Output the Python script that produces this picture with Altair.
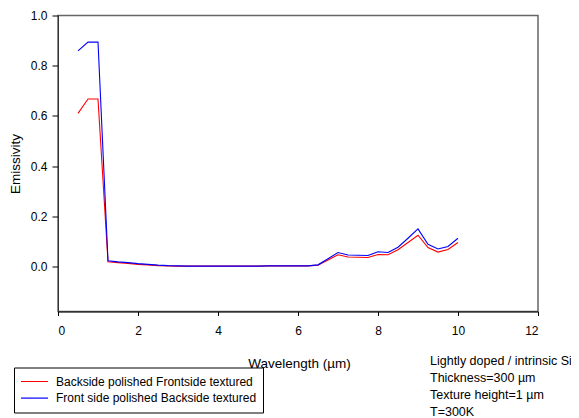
import altair as alt
import pandas as pd

wavelength = [0.5, 0.75, 1.0, 1.25, 1.5, 1.75, 2.0, 2.25, 2.5, 2.75, 3.0, 3.25, 3.5, 3.75,
              4.0, 4.25, 4.5, 4.75, 5.0, 5.25, 5.5, 5.75, 6.0, 6.25, 6.5, 6.75, 7.0, 7.25,
              7.5, 7.75, 8.0, 8.25, 8.5, 8.75, 9.0, 9.25, 9.5, 9.75, 10.0]
red_vals = [0.610, 0.667, 0.667, 0.018, 0.015, 0.012, 0.008, 0.006, 0.003, 0.002, 0.001, 0.001,
            0.001, 0.001, 0.001, 0.001, 0.001, 0.001, 0.001, 0.002, 0.002, 0.002, 0.002, 0.002,
            0.005, 0.025, 0.046, 0.037, 0.036, 0.035, 0.047, 0.046, 0.066, 0.095, 0.124, 0.075,
            0.057, 0.067, 0.095]
blue_vals = [0.859, 0.894, 0.894, 0.022, 0.018, 0.015, 0.011, 0.008, 0.005, 0.003, 0.002, 0.001,
             0.001, 0.001, 0.001, 0.001, 0.001, 0.001, 0.001, 0.002, 0.002, 0.002, 0.002, 0.002,
             0.006, 0.030, 0.055, 0.045, 0.044, 0.043, 0.058, 0.055, 0.076, 0.112, 0.149, 0.088,
             0.069, 0.079, 0.112]
series_names = ["Backside polished Frontside textured", "Front side polished Backside textured"]
series_colors = ["#ff0000", "#0000ff"]
x_ticks = [0, 2, 4, 6, 8, 10, 12]
y_ticks = [0.0, 0.2, 0.4, 0.6, 0.8, 1.0]
note_lines = ["Lightly doped / intrinsic Si", "Thickness=300 \u00b5m", "Texture height=1 \u00b5m", "T=300K"]

rows = []
for name, vals in zip(series_names, [red_vals, blue_vals]):
    for w, v in zip(wavelength, vals):
        rows.append({"Wavelength": w, "Emissivity": v, "Series": name})
df = pd.DataFrame(rows)

FONT = "Liberation Sans"

lines = alt.Chart(df).mark_line(strokeWidth=1.1, clip=False).encode(
    x=alt.X("Wavelength:Q",
            scale=alt.Scale(domain=[0, 12], nice=False, zero=False),
            axis=alt.Axis(values=x_ticks, title="Wavelength (\u00b5m)", grid=False,
                          tickSize=4, labelPadding=10, labelFontSize=12, labelFont=FONT,
                          titleFont=FONT, titleFontSize=13.5, titleFontWeight="normal",
                          titleX=241, titleY=52, titleBaseline="middle",
                          domainColor="#000000", tickColor="#000000", labelColor="#000000",
                          titleColor="#000000")),
    y=alt.Y("Emissivity:Q",
            scale=alt.Scale(domain=[-0.18, 1.0], nice=False, zero=False),
            axis=alt.Axis(values=y_ticks, format=".1f", title="Emissivity", grid=False,
                          tickSize=6, labelPadding=5, labelFontSize=12, labelFont=FONT,
                          titleFont=FONT, titleFontSize=13.5, titleFontWeight="normal",
                          titleX=-43, titleY=148, titleBaseline="middle", titleAngle=-90,
                          domainColor="#333333", tickColor="#000000", labelColor="#000000",
                          titleColor="#000000")),
    color=alt.Color("Series:N",
                    scale=alt.Scale(domain=series_names, range=series_colors),
                    legend=alt.Legend(orient="none", legendX=-44, legendY=352, title=None,
                                      strokeColor="#000000", padding=6,
                                      symbolType="stroke", symbolSize=729,
                                      symbolStrokeWidth=1.2, clipHeight=16, rowPadding=0.6,
                                      labelFont=FONT, labelFontSize=12, labelOffset=7,
                                      labelLimit=400, labelColor="#000000")),
    detail="Series:N",
)

notes = alt.Chart(pd.DataFrame({"t": ["\n".join(note_lines)]})).mark_text(
    align="left", baseline="top", font=FONT, fontSize=12.5, lineBreak="\n",
    lineHeight=17, color="#000000"
).encode(text="t:N", x=alt.value(372), y=alt.value(339))

chart = alt.layer(lines, notes).properties(
    width=480, height=296,
    autosize=alt.AutoSizeParams(type="none"),
    padding={"left": 50, "top": 7.5, "right": 33, "bottom": 106},
    background="#ffffff",
).configure_view(stroke="#666666", strokeWidth=1.5)

chart.save("out.html", embed_options={"renderer": "svg", "actions": False})
